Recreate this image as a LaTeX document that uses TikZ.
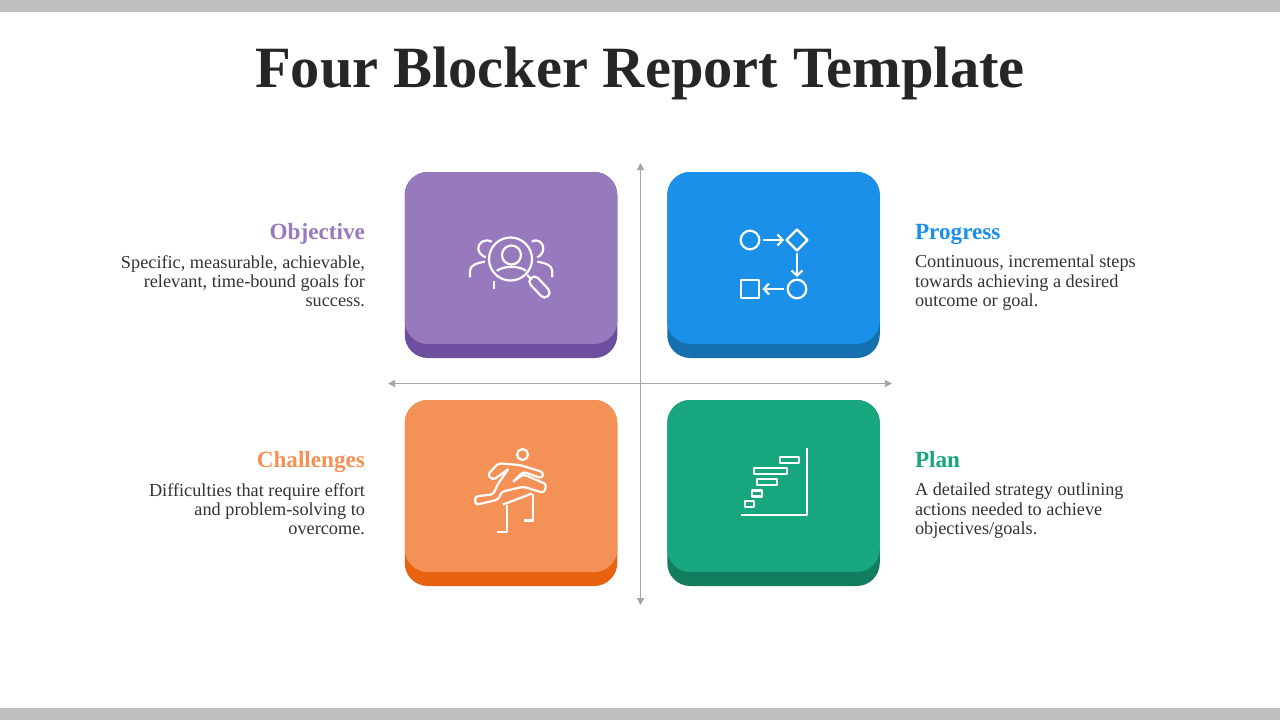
\documentclass[tikz,border=0pt]{standalone}
\usepackage{fontspec}
\setmainfont{Liberation Serif}
\usetikzlibrary{arrows.meta,positioning}
\def\px{0.02cm}
\definecolor{barcol}{HTML}{BFBFBF}
\definecolor{axiscol}{HTML}{A6A6A6}
\definecolor{inkcol}{HTML}{262626}
\definecolor{textcol}{HTML}{333333}
\definecolor{objcol}{HTML}{9779BD}
\definecolor{objdark}{HTML}{6D4E9F}
\definecolor{progcol}{HTML}{1B90E8}
\definecolor{progdark}{HTML}{1570B0}
\definecolor{chalcol}{HTML}{F49157}
\definecolor{chaldark}{HTML}{E86310}
\definecolor{plancol}{HTML}{17A67E}
\definecolor{plandark}{HTML}{127C5E}
\tikzset{
  shade/.style={rectangle,rounded corners=23*\px,minimum width=212.5*\px,minimum height=186*\px,inner sep=0pt,outer sep=0pt},
  card/.style={rectangle,rounded corners=23*\px,minimum width=212.5*\px,minimum height=172*\px,inner sep=0pt,outer sep=0pt},
  head/.style={font=\fontsize{13.2}{15}\selectfont\bfseries,text height=9pt,text depth=3pt,inner sep=0pt,outer sep=0pt},
  lefttext/.style={font=\fontsize{10.4}{11}\selectfont,text=textcol,align=right,inner sep=0pt,outer sep=0pt},
  righttext/.style={font=\fontsize{10.4}{11}\selectfont,text=textcol,align=left,inner sep=0pt,outer sep=0pt},
  icon/.style={draw=white,line width=2.2*\px,line join=round},
  flow/.style={icon,-{Straight Barb[length=5*\px,width=11*\px]}},
  axis/.style={draw=axiscol,line width=1.1*\px,{Triangle[length=7*\px,width=7*\px]}-{Triangle[length=7*\px,width=7*\px]}}
}
\begin{document}
\begin{tikzpicture}[x=\px,y=-\px]
\useasboundingbox (0,0) rectangle (1280,720);
\fill[white] (0,0) rectangle (1280,720);
\fill[barcol] (0,0) rectangle (1280,12);
\fill[barcol] (0,708) rectangle (1280,720);

\node[font=\fontsize{33.3}{38}\selectfont\bfseries,text=inkcol,inner sep=0pt] (title) at (640,73) {Four Blocker Report Template};

% cards
\node[shade,fill=objdark] (objshade) at (511,265) {};
\node[shade,fill=progdark,right=50*\px of objshade] (progshade) {};
\node[shade,fill=chaldark,below=42*\px of objshade] (chalshade) {};
\node[shade,fill=plandark,right=50*\px of chalshade] (planshade) {};
\node[card,fill=objcol,below=0pt of objshade.north,anchor=north] (objcard) {};
\node[card,fill=progcol,below=0pt of progshade.north,anchor=north] (progcard) {};
\node[card,fill=chalcol,below=0pt of chalshade.north,anchor=north] (chalcard) {};
\node[card,fill=plancol,below=0pt of planshade.north,anchor=north] (plancard) {};

% axes
\coordinate (vtop) at (640.5,163);
\coordinate (vbot) at (640.5,605);
\coordinate (hleft) at (388,383.5);
\coordinate (hright) at (892,383.5);
\draw[axis] (vtop) -- (vbot);
\draw[axis] (hleft) -- (hright);

% labels
\node[head,text=objcol,anchor=base east] (objhead) at (365,239) {Objective};
\node[lefttext,below=11*\px of objhead.south east,anchor=north east] (objtext) {Specific, measurable, achievable,\\relevant, time-bound goals for\\success.};
\node[head,text=progcol,anchor=base west] (proghead) at (915,239) {Progress};
\node[righttext,below=11*\px of proghead.south west,anchor=north west] (progtext) {Continuous, incremental steps\\towards achieving a desired\\outcome or goal.};
\node[head,text=chalcol,anchor=base east] (chalhead) at (365,467) {Challenges};
\node[lefttext,below=11*\px of chalhead.south east,anchor=north east] (chaltext) {Difficulties that require effort\\and problem-solving to\\overcome.};
\node[head,text=plancol,anchor=base west] (planhead) at (915,467) {Plan};
\node[righttext,below=11*\px of planhead.south west,anchor=north west] (plantext) {A detailed strategy outlining\\actions needed to achieve\\objectives/goals.};

% objective icon
\draw[icon] (510.5,259) circle (21.5);
\draw[icon] (511.5,255) circle (9.5);
\draw[icon] (496.7,270.7) .. controls (505,265.5) and (518,265.5) .. (526,270.7);
\draw[icon] (491.7,241.7) .. controls (484,238) and (478.3,243) .. (478.3,248.3) .. controls (478.3,252) and (481,255.5) .. (485.7,257.3);
\draw[icon] (531.7,241.7) .. controls (538,238) and (543.3,243) .. (543.3,248.3) .. controls (543.3,252) and (541,255.5) .. (537.3,257.3);
\draw[icon] (485,261.7) .. controls (477,263) and (470,265) .. (470,271) -- (470,277.3);
\draw[icon] (537.3,261.7) .. controls (545,263) and (552.3,265) .. (552.3,271) -- (552.3,277.3);
\draw[icon] (494,280.7) -- (494,289.3);
\draw[icon] (527.3,275) -- (531.7,280);
\node[draw=white,line width=2.2*\px,rounded corners=5*\px,minimum width=25*\px,minimum height=10*\px,inner sep=0pt,rotate=-47] (lenshandle) at (539.5,287) {};

% progress icon
\draw[icon] (750,240) circle (9.3);
\draw[flow] (763.3,240) -- (784,240);
\draw[icon] (797,229.5) -- (807.5,240) -- (797,250.5) -- (786.5,240) -- cycle;
\draw[flow] (797,253.3) -- (797,277);
\draw[icon] (797,289) circle (9.3);
\draw[flow] (784,289) -- (762.5,289);
\draw[icon] (740.7,279.7) rectangle (759.3,298);

% challenges icon
\draw[icon] (522.5,454.5) circle (5.5);
\draw[icon,rounded corners=3*\px] (508.3,469) -- (493.3,480) -- (487.5,475) -- (498.3,463.3) -- (520,465) -- (543.5,472.3) -- (542,478.5) -- (523.3,471.7) -- (514,481);
\draw[icon,rounded corners=3*\px] (513,481.7) -- (523.3,474.3) -- (546.5,484.3) -- (544,493) -- (523.3,486.7) -- (501.7,491.7) -- (498.3,499.5) -- (475.5,505) -- (475,496.5) -- (493.3,494.3) -- (497.3,485) -- (508.3,469);
\draw[icon] (532,493.5) -- (503,504.5);
\draw[icon] (506.7,505) -- (506.7,532) -- (497.3,532);
\draw[icon] (532.7,493.5) -- (532.7,520.5) -- (524,520.5);

% plan icon
\draw[icon] (740.7,515) -- (807,515) -- (807,448.3);
\draw[icon] (780,457) rectangle (799,463);
\draw[icon] (754,468) rectangle (787,474);
\draw[icon] (757,479) rectangle (777,485);
\draw[icon] (752,490.5) rectangle (762,496.5);
\draw[icon] (745,501) rectangle (754,507);
\end{tikzpicture}
\end{document}
